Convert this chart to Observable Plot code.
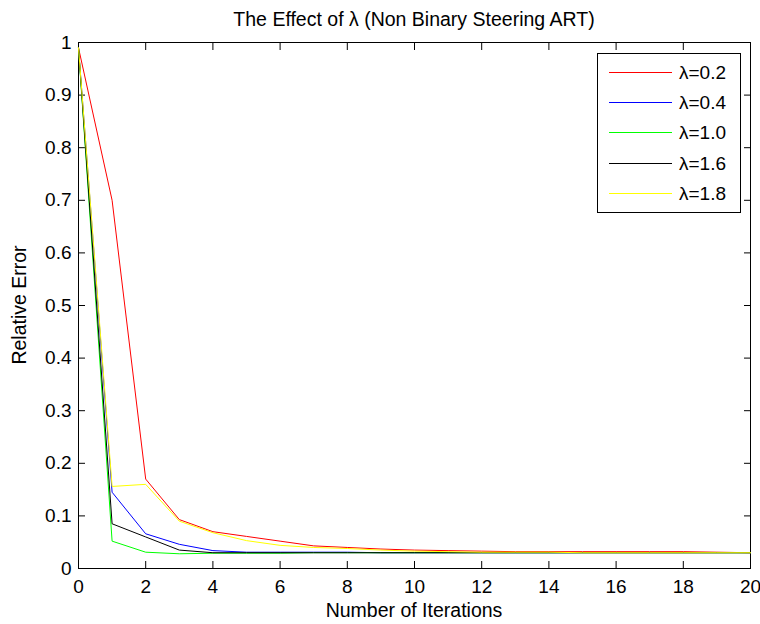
<!DOCTYPE html>
<html>
<head>
<meta charset="utf-8">
<script src="https://cdn.jsdelivr.net/npm/d3@7"></script>
<script src="https://cdn.jsdelivr.net/npm/@observablehq/plot@0.6"></script>
<style>
  body { margin: 0; background: #fff; font-family: "Liberation Sans", Arial, sans-serif; color: #000; }
  #wrap { position: relative; width: 760px; height: 624px; }
  #title { position: absolute; left: 78px; width: 672px; top: 10px; text-align: center; font-size: 19.5px; line-height: 1; white-space: nowrap; }
  #xlabel { position: absolute; left: 78px; width: 672px; top: 601px; text-align: center; font-size: 19.5px; line-height: 1; white-space: nowrap; }
  #ylabel { position: absolute; left: 20px; top: 305px; font-size: 19.5px; line-height: 1; transform: translate(-50%, -50%) rotate(-90deg); white-space: nowrap; }
  #legend { position: absolute; left: 597px; top: 53px; width: 144px; height: 160px; border: 1px solid #000; background: #fff; box-sizing: border-box; }
  .row { position: absolute; left: 0; height: 20px; font-size: 19px; line-height: 1; }
  .sw { position: absolute; left: 11px; width: 63px; height: 1px; top: 9px; }
  .lb { position: absolute; left: 81px; top: 0; white-space: nowrap; }
</style>
</head>
<body>
<div id="wrap">
  <div id="title">The Effect of λ (Non Binary Steering ART)</div>
  <div id="chart"></div>
  <div id="xlabel">Number of Iterations</div>
  <div id="ylabel">Relative Error</div>
  <div id="legend"></div>
</div>
<script>
const iterations = [0,1,2,3,4,5,6,7,8,9,10,11,12,13,14,15,16,17,18,19,20];
const seriesNames = ["λ=0.2","λ=0.4","λ=1.0","λ=1.6","λ=1.8"];
const seriesColors = ["#ff0000","#0000ff","#00ff00","#000000","#ffff00"];
const red    = [0.99,0.70,0.17,0.093,0.070,0.061,0.052,0.043,0.040,0.037,0.035,0.034,0.033,0.032,0.032,0.032,0.032,0.032,0.032,0.031,0.030];
const blue   = [0.99,0.145,0.066,0.046,0.034,0.031,0.031,0.031,0.031,0.030,0.030,0.030,0.030,0.030,0.030,0.030,0.030,0.030,0.030,0.030,0.030];
const green  = [0.99,0.052,0.031,0.028,0.029,0.029,0.029,0.030,0.030,0.030,0.030,0.030,0.030,0.030,0.030,0.030,0.030,0.030,0.030,0.030,0.030];
const black  = [0.99,0.085,0.060,0.035,0.030,0.030,0.030,0.030,0.030,0.030,0.030,0.030,0.030,0.030,0.030,0.030,0.030,0.030,0.030,0.030,0.030];
const yellow = [0.99,0.156,0.160,0.090,0.068,0.053,0.044,0.040,0.038,0.035,0.033,0.032,0.031,0.031,0.031,0.030,0.030,0.030,0.030,0.030,0.030];
const xTicks = [0,2,4,6,8,10,12,14,16,18,20];
const yTicks = [0,0.1,0.2,0.3,0.4,0.5,0.6,0.7,0.8,0.9,1];
const yTickLabels = ["0","0.1","0.2","0.3","0.4","0.5","0.6","0.7","0.8","0.9","1"];

const allSeries = [red, blue, green, black, yellow];
const data = [];
allSeries.forEach((vals, s) => vals.forEach((v, i) => data.push({series: seriesNames[s], x: iterations[i], y: v})));

const chart = Plot.plot({
  width: 760,
  height: 624,
  marginLeft: 78,
  marginRight: 10,
  marginTop: 42,
  marginBottom: 56,
  style: {fontFamily: "Liberation Sans, Arial, sans-serif", fontSize: "19px", color: "#000", background: "#fff"},
  x: {domain: [0, 20], label: null},
  y: {domain: [0, 1], label: null},
  color: {domain: seriesNames, range: seriesColors},
  marks: [
    Plot.frame({stroke: "#000", strokeWidth: 1}),
    // tick labels
    Plot.axisX({ticks: xTicks, tickSize: 0, tickPadding: 11, label: null}),
    Plot.axisY({ticks: yTicks, tickSize: 0, tickPadding: 7, tickFormat: (d, i) => yTickLabels[i], label: null}),
    // inward ticks on all four sides
    Plot.axisX({anchor: "bottom", ticks: xTicks, tickSize: 7, dy: -7, tickFormat: () => "", label: null, stroke: "#000"}),
    Plot.axisX({anchor: "top", ticks: xTicks, tickSize: 7, dy: 7, tickFormat: () => "", label: null, stroke: "#000"}),
    Plot.axisY({anchor: "left", ticks: yTicks, tickSize: 7, dx: 7, tickFormat: () => "", label: null, stroke: "#000"}),
    Plot.axisY({anchor: "right", ticks: yTicks, tickSize: 7, dx: -7, tickFormat: () => "", label: null, stroke: "#000"}),
    Plot.line(data, {x: "x", y: "y", z: "series", stroke: "series", strokeWidth: 1})
  ]
});
document.getElementById("chart").appendChild(chart);

const legend = document.getElementById("legend");
seriesNames.forEach((n, i) => {
  const row = document.createElement("div");
  row.className = "row";
  row.style.top = (9 + i * 30.2) + "px";
  row.style.width = "100%";
  row.innerHTML = `<span class="sw" style="background:${seriesColors[i]}"></span><span class="lb">${n}</span>`;
  legend.appendChild(row);
});
</script>
</body>
</html>
